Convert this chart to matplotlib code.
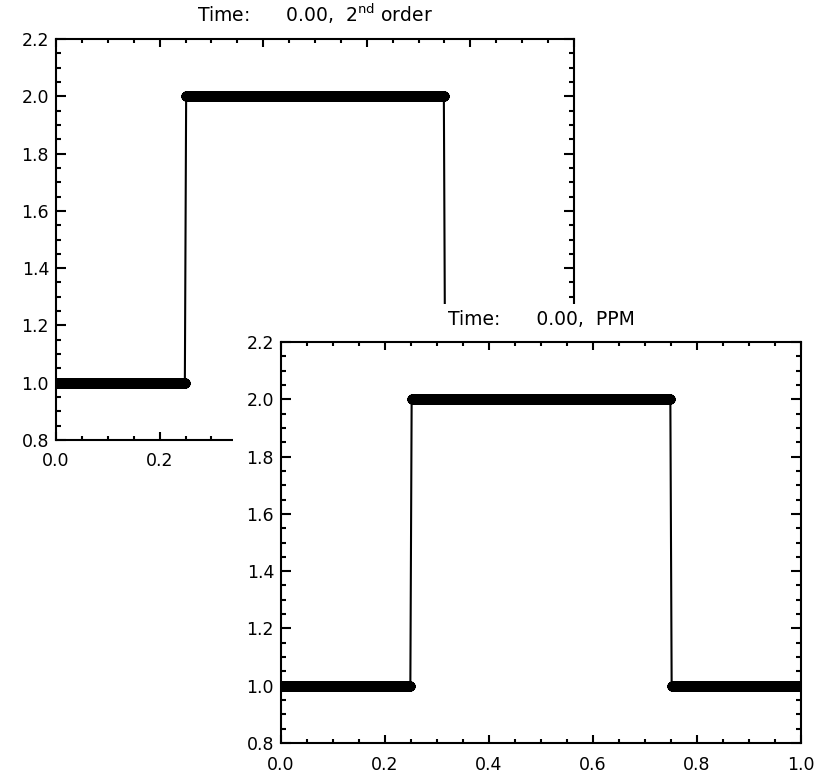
import numpy as np
import matplotlib
matplotlib.use("Agg")
import matplotlib.pyplot as plt
from matplotlib.ticker import MultipleLocator, FuncFormatter

# Top-hat initial condition on a uniform grid
n_cells = 400
step_edges = [0.25, 0.75]
step_levels = [1.0, 2.0, 1.0]

x_range = [0.0, 1.0]
y_range = [0.8, 2.2]
x_major, x_minor = 0.2, 0.05
y_major, y_minor = 0.2, 0.05

titles = ["Time:      0.00,  2$^{\\mathrm{nd}}$ order", "Time:      0.00,  PPM"]

x_cells = (np.arange(n_cells) + 0.5) / n_cells
rho = np.select([x_cells < step_edges[0], x_cells < step_edges[1]],
                step_levels[:2], default=step_levels[2])

W, H = 820, 774
fig = plt.figure(figsize=(W / 100, H / 100), dpi=100)
fig.patch.set_facecolor("white")

plt.rcParams["font.family"] = ["DejaVu Sans"]


def px_axes(left, top, right, bottom, z):
    return fig.add_axes([left / W, 1 - bottom / H, (right - left) / W, (bottom - top) / H],
                        zorder=z)


def style(ax, title, x_label_max=None):
    ax.set_xlim(*x_range)
    ax.set_ylim(*y_range)
    ax.xaxis.set_major_locator(MultipleLocator(x_major))
    ax.xaxis.set_minor_locator(MultipleLocator(x_minor))
    ax.yaxis.set_major_locator(MultipleLocator(y_major))
    ax.yaxis.set_minor_locator(MultipleLocator(y_minor))

    def xfmt(v, _):
        if x_label_max is not None and v > x_label_max:
            return ""
        return f"{v:.1f}"

    ax.xaxis.set_major_formatter(FuncFormatter(xfmt))
    ax.yaxis.set_major_formatter(FuncFormatter(lambda v, _: f"{v:.1f}"))
    for s in ax.spines.values():
        s.set_linewidth(1.5)
        s.set_color("black")
    ax.tick_params(axis="both", which="both", direction="in", top=True, right=True,
                   width=1.5, colors="black", labelsize=12.5)
    ax.tick_params(axis="x", which="major", length=5.8, pad=9)
    ax.tick_params(axis="x", which="minor", length=2.9)
    ax.tick_params(axis="y", which="major", length=7.5, pad=5)
    ax.tick_params(axis="y", which="minor", length=3.7)
    ax.set_title(title, fontsize=13.5, pad=12)
    ax.plot(x_cells, rho, color="black", linewidth=1.5, marker=(8, 2, 0),
            markersize=7.2, markeredgewidth=2.4, clip_on=True)
    ax.set_facecolor("white")


# Earlier output window (2nd order scheme); its right part lies under the later window
ax_back = px_axes(56, 39, 574, 440, 1)
style(ax_back, titles[0], x_label_max=0.3)

# Later output window drawn over it (PPM scheme)
cover = px_axes(233, 304, 820, 774, 2)
cover.set_axis_off()
cover.add_patch(plt.Rectangle((0, 0), 1, 1, transform=cover.transAxes,
                              facecolor="white", edgecolor="none"))

ax_front = px_axes(281, 342, 801, 743, 3)
style(ax_front, titles[1])

fig.savefig("out.png", dpi=100, facecolor="white")
